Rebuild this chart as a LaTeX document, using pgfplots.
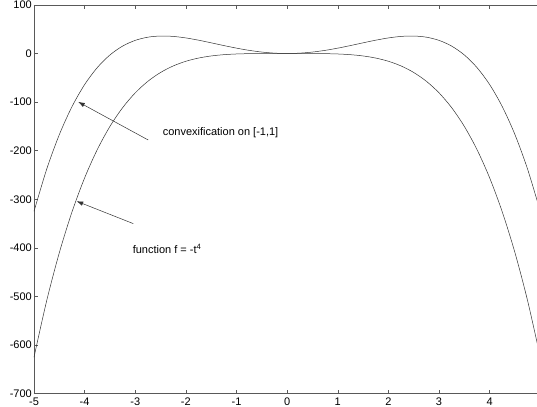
\documentclass[border=0pt]{standalone}
\usepackage{pgfplots}
\pgfplotsset{compat=1.18}
\usepackage{fontspec}
\setmainfont{Liberation Sans}
\usetikzlibrary{arrows.meta}
\begin{document}
\begin{tikzpicture}
\begin{axis}[
  name=ax,
  scale only axis, width=503pt, height=389pt,
  xmin=-5, xmax=4.93, ymin=-700, ymax=100,
  axis x line*=box, axis y line*=left,
  axis line style={black!65, line width=0.5pt},
  xtick={-5,-4,-3,-2,-1,0,1,2,3,4},
  xticklabels={-5,-4,-3,-2,-1,0,1,2,3,4},
  ytick={-700,-600,-500,-400,-300,-200,-100,0,100},
  yticklabels={-700,-600,-500,-400,-300,-200,-100,0,100},
  tick align=inside, major tick length=4pt,
  tick style={black!65, line width=0.5pt},
  ticklabel style={font=\fontsize{11}{13}\selectfont, inner sep=1pt},
  xticklabel style={yshift=-3pt},
  yticklabel style={xshift=-1pt},
  clip=true,
]
\addplot[black!80, line width=0.5pt, smooth] coordinates {
(-5,-625) (-4.75,-509.066) (-4.5,-410.063) (-4.25,-326.254) (-4,-256)
(-3.75,-197.754) (-3.5,-150.063) (-3.25,-111.566) (-3,-81) (-2.75,-57.191)
(-2.5,-39.063) (-2.25,-25.629) (-2,-16) (-1.75,-9.379) (-1.5,-5.063)
(-1.25,-2.441) (-1,-1) (-0.75,-0.316) (-0.5,-0.063) (-0.25,-0.004) (0,0)
(0.25,-0.004) (0.5,-0.063) (0.75,-0.316) (1,-1) (1.25,-2.441) (1.5,-5.063)
(1.75,-9.379) (2,-16) (2.25,-25.629) (2.5,-39.063) (2.75,-57.191) (3,-81)
(3.25,-111.566) (3.5,-150.063) (3.75,-197.754) (4,-256) (4.25,-326.254)
(4.5,-410.063) (4.75,-509.066) (5,-625)
};
\addplot[black!80, line width=0.5pt, smooth] coordinates {
(-5,-325) (-4.75,-238.316) (-4.5,-167.063) (-4.25,-109.504) (-4,-64)
(-3.75,-29.004) (-3.5,-3.063) (-3.25,15.184) (-3,27) (-2.75,33.559)
(-2.5,35.938) (-2.25,35.121) (-2,32) (-1.75,27.371) (-1.5,21.938)
(-1.25,16.309) (-1,11) (-0.75,6.434) (-0.5,2.938) (-0.25,0.746) (0,0)
(0.25,0.746) (0.5,2.938) (0.75,6.434) (1,11) (1.25,16.309) (1.5,21.938)
(1.75,27.371) (2,32) (2.25,35.121) (2.5,35.938) (2.75,33.559) (3,27)
(3.25,15.184) (3.5,-3.063) (3.75,-29.004) (4,-64) (4.25,-109.504)
(4.5,-167.063) (4.75,-238.316) (5,-325)
};
\draw[black!80, line width=0.5pt, -{Latex[length=6.5pt,width=4.5pt]}] (axis cs:-2.744,-178) -- (axis cs:-4.126,-99.6);
\draw[black!80, line width=0.5pt, -{Latex[length=6.5pt,width=4.5pt]}] (axis cs:-3.04,-350) -- (axis cs:-4.157,-304);
\node[anchor=west, inner sep=0pt, font=\fontsize{11}{13}\selectfont] at (axis cs:-2.46,-162) {convexification on [-1,1]};
\node[anchor=west, inner sep=0pt, font=\fontsize{11}{13}\selectfont] at (axis cs:-3.052,-403) {function f = -t\textsuperscript{4}};
\end{axis}
\path ([xshift=-34pt]ax.south west);
\end{tikzpicture}
\end{document}
